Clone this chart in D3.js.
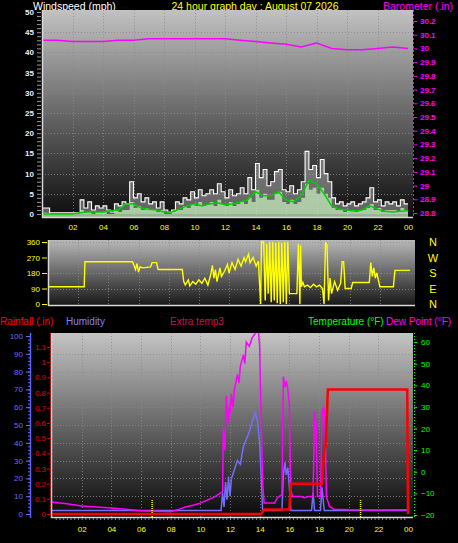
<!DOCTYPE html>
<html><head><meta charset="utf-8">
<script src="https://cdn.jsdelivr.net/npm/d3@7/dist/d3.min.js"></script>
<style>html,body{margin:0;padding:0;background:#000;overflow:hidden}svg{display:block}</style>
</head><body><svg id="c" width="458" height="543"></svg>
<script>
// ---------------- DATA ----------------
const hourTickValues = [2,4,6,8,10,12,14,16,18,20,22,24];
const hourLabels = ["02","04","06","08","10","12","14","16","18","20","22","00"];

// wind (mph), one value every 15 minutes from 00:00 to 24:00
const windGust = [1.5,1.5,0.3,0.3, 0.3,0.3,0.3,0.3, 0.3,0.3,3.5,1.5, 3,1,2,1.5, 2,1,0.5,2.5, 2,3,2.5,8,
  4,5,3,4, 2.5,3,1.5,3, 1,0.5,1,3, 2.5,4,3.5,5.5, 4,6,4.5,5, 6,5,7.5,5.5, 4,6,4.5,5, 6.5,5,9,6,
  12.5,9,11,7, 8,10.5,11,6, 5.5,7,5,6, 8,15.5,11,12, 9,13.5,10,8, 4,2.5,3,2, 2.5,3,2,2.5,
  3,4,6.5,3, 3.5,2,3,2.5, 3,2,3.5,2.5, 2.5];
const windSpeed = [0.3,0.3,0,0, 0,0,0,0, 0,0,1,0.5, 0.5,0,0.5,0.5, 0.5,0,0,1, 0.5,1,1,3,
  1.5,2,1,1.5, 1,1,0.5,1, 0,0,0.5,1, 1,2,1.5,2.5, 2,3,2,2.5, 3,2,3.5,2.5, 2,3,2,2.5, 3,2.5,4,3,
  6,4,5,3.5, 3.5,5,5.5,3, 2.5,3.5,2.5,3, 4,7.5,6,6.5, 5,6.5,5,4, 1.5,1,1,0.5, 1,1,0.5,1,
  1,1.5,2.5,1, 1.5,0.5,1,1, 1,0.5,1.5,1, 1];
// average wind, every 30 minutes
const windAvg = [0,0, 0,0, 0,0.3, 0.5,0.5, 0.5,0.8, 1,2.5, 2.5,1.5, 1.2,1, 0.5,0.5, 1.2,2, 2.5,2, 2.5,2.8,
  2.3,2.5, 3,3.5, 5.5,4.5, 4.5,5.5, 3.5,3, 4.5,8.3, 7.5,5, 2,1.2, 1,0.7, 1,2, 1.2,0.7, 0.5,0.7, 0.8];
// barometer (in), hourly
const baro = [30.06,30.06,30.05,30.05,30.05,30.06,30.06,30.07,30.07,30.07,30.07,30.07,30.07,
  30.06,30.05,30.04,30.03,30.01,30.04,30.00,29.99,29.99,30.00,30.01,30.00];

// wind direction (deg)
const dirHours = [0,2.4,2.45,5.6,5.7,5.8,5.9,6.0,6.1,6.3,6.8,6.9,7.2,7.3,8.9,9.0,9.1,9.3,9.4,9.6,9.8,10.0,10.2,10.4,10.6,10.8,10.9,11.0,11.1,11.2,11.4,11.5,11.7,11.9,12.0,12.2,12.4,12.6,12.8,13.0,13.1,13.3,13.4,13.6,13.8,13.95,14.0,14.1,14.15,14.3,14.4,14.5,14.6,14.7,14.8,14.9,15.0,15.1,15.2,15.3,15.4,15.5,15.6,15.7,15.8,15.9,16.0,16.3,16.5,16.6,16.7,16.75,16.8,16.9,17.0,17.2,17.4,17.6,17.8,18.0,18.2,18.3,18.4,18.5,18.6,18.7,18.8,19.0,19.2,19.4,19.5,19.6,19.7,20.1,20.2,21.3,21.4,21.5,21.6,21.7,21.8,21.9,22.0,22.9,23.0,24];
const dirDeg =   [100,100,245,245,225,200,235,185,215,210,215,240,240,200,200,130,110,140,105,130,115,140,120,150,110,175,225,150,200,130,210,160,190,230,180,240,200,260,220,270,245,290,240,270,220,250,160,0,360,360,20,350,60,360,10,360,20,355,5,360,0,355,10,360,0,360,60,60,60,350,0,340,100,125,100,110,95,115,100,110,90,0,360,340,20,150,60,130,80,120,245,245,90,90,125,125,240,160,210,150,180,140,100,100,195,195];

// humidity (%)
const humHours = [0,11.4,11.5,11.6,11.7,11.8,11.9,12.0,12.1,12.3,12.5,12.7,12.9,13.1,13.3,13.5,13.7,13.85,14.0,14.1,14.2,15.5,15.6,15.7,15.8,15.9,16.0,16.1,17.5,17.6,17.7,18.1,18.2,18.35,24];
const humVals  = [2,2,12,4,18,8,21,10,20,25,30,28,38,42,46,52,57,52,40,22,2,2,22,29,22,26,15,2,2,12,2,2,15,2,2];

// dew point (°F)
const dewHours = [0,1,2,3,4,5,6,7,8,8.5,9,9.5,10,10.5,11,11.5,11.55,11.65,11.75,11.85,11.95,12.0,12.1,12.2,12.3,12.5,12.6,12.7,12.9,13.0,13.1,13.3,13.5,13.7,13.9,14.0,14.05,14.1,14.2,14.3,15.0,15.2,15.4,15.5,15.6,15.7,15.8,15.9,16.0,16.1,16.2,16.8,17.0,17.3,17.6,17.7,17.8,17.9,18.1,18.2,18.3,18.4,18.5,18.7,19,20,22,24];
const dewVals  = [-14,-14.8,-15.8,-16.3,-16.8,-17.3,-18,-18.3,-18.5,-17.5,-16.3,-15.5,-14.5,-13,-11.5,-9.2,20,10,35,22,30,27,36,30,38,45,41,49,54,50,60,58,62,64,66,58,40,27,-5,-14.5,-14.5,-12,-11,-11,44,39,42,38,31,-8,-11.5,-11.5,-12,-11.5,-11.5,28,22,-11.5,-11.5,25,30,26,-11.5,-16,-17.3,-17.6,-17.7,-17.6];

// rainfall (in)
const rainHours = [0,14.1,14.3,16.0,16.1,18.2,18.35,18.45,18.6,23.95,24];
const rainVals  = [0,0,0.03,0.03,0.2,0.2,0.42,0.45,0.82,0.82,0];

// sunrise / sunset markers (hours)
const sunEvents = [6.75, 20.8];

// ---------------- DRAWING ----------------
const FONT = "'Liberation Sans', Arial, sans-serif";
const svg = d3.select("#c");
const defs = svg.append("defs");
function grad(id, c0, c1) {
  const g = defs.append("linearGradient").attr("id", id).attr("x1",0).attr("y1",0).attr("x2",0).attr("y2",1);
  g.append("stop").attr("offset",0).attr("stop-color",c0);
  g.append("stop").attr("offset",1).attr("stop-color",c1);
}
grad("gTop","#c2c2c2","#0c0c0c");
grad("gMid","#b8b8b8","#161616");
grad("gBot","#c4c4c4","#080808");

function panel(id, x0, y0, x1, y1, gid) {
  svg.append("rect").attr("x",x0).attr("y",y0).attr("width",x1-x0).attr("height",y1-y0).attr("fill",`url(#${gid})`);
  defs.append("clipPath").attr("id",id).append("rect").attr("x",x0).attr("y",y0).attr("width",x1-x0).attr("height",y1-y0);
}
function frame(x0, y0, x1, y1) {
  svg.append("line").attr("x1",x0+0.5).attr("x2",x0+0.5).attr("y1",y0).attr("y2",y1).attr("stroke","#d8d8d8").attr("stroke-width",1.5);
  svg.append("line").attr("x1",x0).attr("x2",x1).attr("y1",y1-0.5).attr("y2",y1-0.5).attr("stroke","#d8d8d8").attr("stroke-width",1.5);
}
function styleAxis(g, color, size) {
  g.attr("font-family", FONT).attr("font-size", size);
  g.select(".domain").remove();
  g.selectAll("text").attr("fill", color);
  g.selectAll("line").attr("stroke", color);
  return g;
}
function gridLines(clip, xs, ys, x0, x1, y0, y1, xScale, yScale) {
  const g = svg.append("g").attr("clip-path",`url(#${clip})`);
  g.selectAll(null).data(ys).enter().append("line")
    .attr("x1",x0).attr("x2",x1).attr("y1",d=>Math.round(yScale(d))+0.5).attr("y2",d=>Math.round(yScale(d))+0.5)
    .attr("stroke","#8a8a8a").attr("stroke-dasharray","1,2").attr("stroke-opacity",0.8);
  g.selectAll(null).data(xs).enter().append("line")
    .attr("y1",y0).attr("y2",y1).attr("x1",d=>Math.round(xScale(d))+0.5).attr("x2",d=>Math.round(xScale(d))+0.5)
    .attr("stroke","#8a8a8a").attr("stroke-dasharray","1,2").attr("stroke-opacity",0.8);
}

// Title row
svg.append("text").attr("x",33).attr("y",9.5).attr("fill","#ffffff").attr("font-family",FONT).attr("font-size",10.5).text("Windspeed (mph)");
svg.append("text").attr("x",255).attr("y",9.5).attr("text-anchor","middle").attr("fill","#ffff00").attr("font-family",FONT).attr("font-size",10.5).text("24 hour graph day : August 07 2026");
svg.append("text").attr("x",453).attr("y",9.5).attr("text-anchor","end").attr("fill","#ff00ff").attr("font-family",FONT).attr("font-size",10.5).text("Barometer (.in)");

// ===== TOP PANEL =====
const xTop = d3.scaleLinear().domain([0,24]).range([42,408]);
const yWind = d3.scaleLinear().domain([0,50]).range([214,12]);
const yBaro = d3.scaleLinear().domain([28.8,30.2]).range([213,21]);
panel("cTop",42,10,413,218,"gTop");
gridLines("cTop",[2,4,6,8,10,12,14,16,18,20,22],[5,10,15,20,25,30,35,40,45],42,413,10,218,xTop,yWind);

const q = i => i*0.25, hh = i => i*0.5;
const gTop = svg.append("g").attr("clip-path","url(#cTop)");
gTop.append("path").datum(windGust)
  .attr("d", d3.area().x((d,i)=>xTop(q(i))).y0(yWind(0)).y1(d=>yWind(d)).curve(d3.curveStepAfter))
  .attr("fill","#b4b4b4").attr("fill-opacity",0.5);
gTop.append("path").datum(windGust)
  .attr("d", d3.line().x((d,i)=>xTop(q(i))).y(d=>yWind(d)).curve(d3.curveStepAfter))
  .attr("fill","none").attr("stroke","#ffffff").attr("stroke-width",1.1);
gTop.append("path").datum(windSpeed)
  .attr("d", d3.area().x((d,i)=>xTop(q(i))).y0(yWind(0)+3).y1(d=>yWind(d)).curve(d3.curveStepAfter))
  .attr("fill","#c4ecbc").attr("fill-opacity",0.75);
gTop.append("path").datum(windAvg)
  .attr("d", d3.line().x((d,i)=>xTop(hh(i))).y(d=>yWind(d)).curve(d3.curveLinear))
  .attr("fill","none").attr("stroke","#00d000").attr("stroke-width",1.5);
gTop.append("path").datum(baro)
  .attr("d", d3.line().x((d,i)=>xTop(i)).y(d=>yBaro(d)))
  .attr("fill","none").attr("stroke","#ff00ff").attr("stroke-width",1.5);
frame(42,10,413,218);

// left wind axis
styleAxis(svg.append("g").attr("transform","translate(41,0)")
  .call(d3.axisLeft(yWind).tickValues(d3.range(0,51,1)).tickSize(4).tickFormat("")), "#9a9a9a", 8);
styleAxis(svg.append("g").attr("transform","translate(42,0)")
  .call(d3.axisLeft(yWind).tickValues(d3.range(0,51,5)).tickSize(0).tickPadding(8).tickFormat(d3.format("d"))), "#e8eeff", 8)
  .selectAll("text").attr("font-weight","bold");
// right baro axis
svg.append("line").attr("x1",413.5).attr("x2",413.5).attr("y1",10).attr("y2",218).attr("stroke","#ff00ff").attr("stroke-dasharray","2,2");
styleAxis(svg.append("g").attr("transform","translate(413,0)")
  .call(d3.axisRight(yBaro).tickValues(d3.range(28.8,30.21,0.1)).tickSize(4).tickPadding(3).tickFormat(d=>d3.format(".1f")(d).replace(/\.0$/,"") )), "#ff00ff", 8)
  .selectAll("text").attr("font-weight","bold");
// x labels
styleAxis(svg.append("g").attr("transform","translate(0,224)")
  .call(d3.axisBottom(xTop).tickValues(hourTickValues).tickSize(0).tickPadding(0).tickFormat((d,i)=>hourLabels[i])), "#ffff00", 8);

// ===== MIDDLE PANEL =====
const xMid = d3.scaleLinear().domain([0,24]).range([48,410]);
const yDir = d3.scaleLinear().domain([0,360]).range([304,242]);
panel("cMid",48,240,415,306,"gMid");
gridLines("cMid",[2,4,6,8,10,12,14,16,18,20,22],[90,180,270,360],48,415,240,306,xMid,yDir);
svg.append("g").attr("clip-path","url(#cMid)").append("path").datum(dirDeg)
  .attr("d", d3.line().x((d,i)=>xMid(dirHours[i])).y(d=>yDir(d)))
  .attr("fill","none").attr("stroke","#ffff00").attr("stroke-width",1.4);
frame(48,240,415,306);
styleAxis(svg.append("g").attr("transform","translate(47,0)")
  .call(d3.axisLeft(yDir).tickValues([0,90,180,270,360]).tickSize(5).tickPadding(2).tickFormat(d3.format("d"))), "#ffff00", 8);
const compass = ["N","W","S","E","N"];
svg.selectAll(null).data([360,270,180,90,0]).enter().append("text")
  .attr("x",433).attr("y",d=>yDir(d)+4).attr("text-anchor","middle")
  .attr("fill","#ffff00").attr("font-family",FONT).attr("font-size",11)
  .text((d,i)=>compass[i]);

// ===== BOTTOM PANEL =====
const legend = [
  {t:"Rainfall (.in)", x:0, c:"#ff0000"},
  {t:"Humidity", x:66, c:"#8080ff"},
  {t:"Extra temp3", x:170, c:"#c8104c"},
  {t:"Temperature (°F)", x:308, c:"#00ff00"},
  {t:"Dew Point (°F)", x:386, c:"#ff00ff"}
];
svg.selectAll(null).data(legend).enter().append("text")
  .attr("x",d=>d.x).attr("y",325).attr("fill",d=>d.c).attr("font-family",FONT).attr("font-size",10).text(d=>d.t);

const xBot = d3.scaleLinear().domain([0,24]).range([52,408]);
const yHum = d3.scaleLinear().domain([0,100]).range([514,336]);
const yRain = d3.scaleLinear().domain([0,1.1]).range([514,347]);
const yTemp = d3.scaleLinear().domain([-20,60]).range([515,342]);
panel("cBot",51,333,413,518,"gBot");
gridLines("cBot",[2,4,6,8,10,12,14,16,18,20,22],[10,20,30,40,50,60,70,80,90],51,413,333,518,xBot,yHum);

const gBot = svg.append("g").attr("clip-path","url(#cBot)");
gBot.append("path").datum(humVals)
  .attr("d", d3.line().x((d,i)=>xBot(humHours[i])).y(d=>yHum(d)))
  .attr("fill","none").attr("stroke","#7070ff").attr("stroke-width",1.5);
gBot.append("path").datum(dewVals)
  .attr("d", d3.line().x((d,i)=>xBot(dewHours[i])).y(d=>yTemp(d)))
  .attr("fill","none").attr("stroke","#ff00ff").attr("stroke-width",1.5);
gBot.selectAll(null).data(sunEvents).enter().append("line")
  .attr("x1",d=>xBot(d)).attr("x2",d=>xBot(d)).attr("y1",500).attr("y2",518)
  .attr("stroke","#ffff00").attr("stroke-width",1.5).attr("stroke-dasharray","1,1");
gBot.append("path").datum(rainVals)
  .attr("d", d3.line().x((d,i)=>xBot(rainHours[i])).y(d=>yRain(d)))
  .attr("fill","none").attr("stroke","#ff0000").attr("stroke-width",2.5);
frame(51,333,413,518);

// humidity axis (blue)
svg.append("line").attr("x1",30.5).attr("x2",30.5).attr("y1",333).attr("y2",518).attr("stroke","#6060ff").attr("stroke-width",1.5);
styleAxis(svg.append("g").attr("transform","translate(30,0)")
  .call(d3.axisLeft(yHum).tickValues(d3.range(0,101,2)).tickSize(2).tickFormat("")), "#6060ff", 8);
styleAxis(svg.append("g").attr("transform","translate(30,0)")
  .call(d3.axisLeft(yHum).tickValues(d3.range(0,101,10)).tickSize(4).tickPadding(3).tickFormat(d3.format("d"))), "#6a6aff", 8);
// rain axis (red)
svg.append("line").attr("x1",50.5).attr("x2",50.5).attr("y1",333).attr("y2",518).attr("stroke","#ff0000").attr("stroke-dasharray","2,2");
styleAxis(svg.append("g").attr("transform","translate(50,0)")
  .call(d3.axisLeft(yRain).tickValues(d3.range(0,1.11,0.1)).tickSize(3).tickPadding(1).tickFormat(d=>d3.format(".1f")(d).replace(/^0\.0$/,"0").replace(/^1\.0$/,"1"))), "#e00000", 8);
// temperature axis (green)
svg.append("line").attr("x1",414.5).attr("x2",414.5).attr("y1",333).attr("y2",518).attr("stroke","#00ff00").attr("stroke-dasharray","1,2");
styleAxis(svg.append("g").attr("transform","translate(414,0)")
  .call(d3.axisRight(yTemp).tickValues(d3.range(-20,61,10)).tickSize(3).tickPadding(4).tickFormat(d3.format("d"))), "#00ff00", 8);
// x axis
styleAxis(svg.append("g").attr("transform","translate(0,518)")
  .call(d3.axisBottom(xBot).tickValues(d3.range(0.25,24,0.25)).tickSize(2).tickFormat("")), "#8a8a8a", 8);
styleAxis(svg.append("g").attr("transform","translate(0,526)")
  .call(d3.axisBottom(xBot).tickValues(hourTickValues).tickSize(0).tickPadding(0).tickFormat((d,i)=>hourLabels[i])), "#ffff00", 8);
</script>
</body></html>
